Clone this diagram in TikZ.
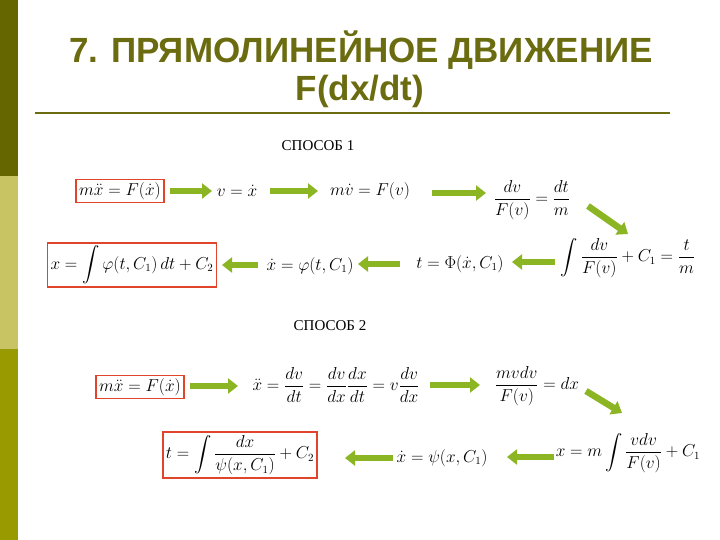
\documentclass[tikz,border=0pt]{standalone}
\usepackage{amsmath}
\usepackage{fontspec}
\setmainfont{Liberation Serif}
\newfontfamily\titlefont{Liberation Sans}
\usetikzlibrary{arrows.meta}
\definecolor{olivedark}{HTML}{666600}
\definecolor{olivelight}{HTML}{C8C463}
\definecolor{olivemid}{HTML}{999900}
\definecolor{titlecol}{HTML}{6B6B10}
\definecolor{arrgreen}{HTML}{8CB523}
\definecolor{boxred}{HTML}{E0442A}
\tikzset{
  eq/.style={inner sep=2pt, font=\fontsize{16}{19}\selectfont},
  boxed/.style={eq, draw=boxred, line width=1.6pt, inner sep=3pt},
  garrow/.style={line width=6.5pt, color=arrgreen, -{Triangle[width=15pt,length=10pt]}},
  lbl/.style={font=\fontsize{15}{18}\selectfont}
}
\begin{document}
\begin{tikzpicture}[x=1pt,y=-1pt]
\useasboundingbox (0,0) rectangle (720,540);
\fill[white] (0,0) rectangle (720,540);
\fill[olivedark] (0,0) rectangle (18,176);
\fill[olivelight] (0,176) rectangle (18,349);
\fill[olivemid] (0,349) rectangle (18,540);
\node[font=\titlefont\bfseries\fontsize{35}{40}\selectfont, text=titlecol] (t1) at (361,50) {7. ПРЯМОЛИНЕЙНОЕ ДВИЖЕНИЕ};
\node[font=\titlefont\bfseries\fontsize{35}{40}\selectfont, text=titlecol] (t2) at (360,91) {F(dx/dt)};
\draw[titlecol, line width=1.5pt] (35,113) -- (670,113);
\node[lbl] (s1) at (318,146) {СПОСОБ 1};
\node[lbl] (s2) at (330,326) {СПОСОБ 2};
% row 1
\node[boxed] (a1) at (120,191) {$m\ddot x = F(\dot x)$};
\node[eq] (a2) at (237,191) {$v=\dot x$};
\node[eq] (a3) at (370,191) {$m\dot v = F(v)$};
\node[eq] (a4) at (532,200) {$\dfrac{dv}{F(v)}=\dfrac{dt}{m}$};
% row 2
\node[eq] (b1) at (628,258) {$\displaystyle\int\frac{dv}{F(v)}+C_1=\frac{t}{m}$};
\node[eq] (b2) at (460,264) {$t=\Phi(\dot x, C_1)$};
\node[eq] (b3) at (310,266) {$\dot x=\varphi(t,C_1)$};
\node[boxed] (b4) at (132,265) {$x=\displaystyle\int\varphi(t,C_1)\,dt+C_2$};
% row 3
\node[boxed] (c1) at (140,387) {$m\ddot x = F(\dot x)$};
\node[eq] (c2) at (336,385) {$\ddot x=\dfrac{dv}{dt}=\dfrac{dv}{dx}\dfrac{dx}{dt}=v\dfrac{dv}{dx}$};
\node[eq] (c3) at (537,386) {$\dfrac{mvdv}{F(v)}=dx$};
% row 4
\node[eq] (d1) at (628,453) {$x=m\displaystyle\int\frac{vdv}{F(v)}+C_1$};
\node[eq] (d2) at (442,458) {$\dot x=\psi(x,C_1)$};
\node[boxed] (d3) at (240,455) {$t=\displaystyle\int\frac{dx}{\psi(x,C_1)}+C_2$};
% arrow end points
\coordinate (a12s) at (170,191); \coordinate (a12e) at (212,191);
\coordinate (a23s) at (270,191); \coordinate (a23e) at (318,191);
\coordinate (a34s) at (432,193); \coordinate (a34e) at (486,193);
\coordinate (p1) at (588,206); \coordinate (p2) at (628,234);
\coordinate (b12s) at (555,262); \coordinate (b12e) at (512,262);
\coordinate (b23s) at (400,264); \coordinate (b23e) at (358,264);
\coordinate (b34s) at (258,265); \coordinate (b34e) at (222,265);
\coordinate (c12s) at (190,386); \coordinate (c12e) at (238,386);
\coordinate (c23s) at (430,385); \coordinate (c23e) at (480,385);
\coordinate (q1) at (586,391); \coordinate (q2) at (622,413);
\coordinate (d12s) at (554,457); \coordinate (d12e) at (507,457);
\coordinate (d23s) at (393,458); \coordinate (d23e) at (345,458);
\draw[garrow] (a12s) -- (a12e);
\draw[garrow] (a23s) -- (a23e);
\draw[garrow] (a34s) -- (a34e);
\draw[garrow] (p1) -- (p2);
\draw[garrow] (b12s) -- (b12e);
\draw[garrow] (b23s) -- (b23e);
\draw[garrow] (b34s) -- (b34e);
\draw[garrow] (c12s) -- (c12e);
\draw[garrow] (c23s) -- (c23e);
\draw[garrow] (q1) -- (q2);
\draw[garrow] (d12s) -- (d12e);
\draw[garrow] (d23s) -- (d23e);
\end{tikzpicture}
\end{document}
